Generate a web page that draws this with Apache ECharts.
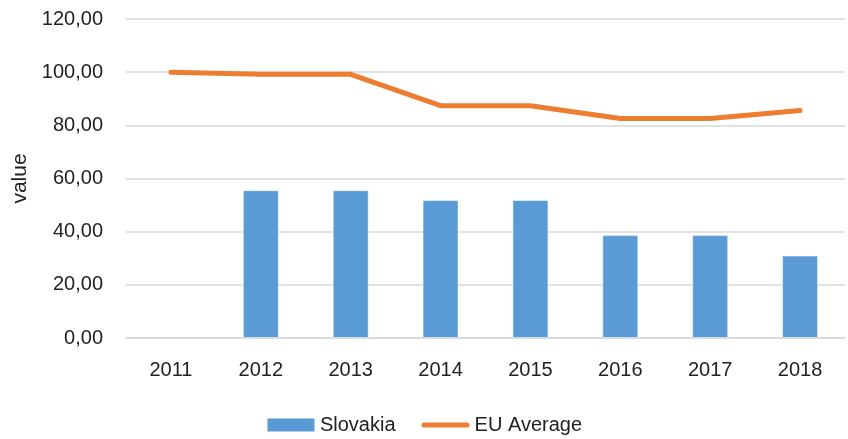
<!DOCTYPE html>
<html>
<head>
<meta charset="utf-8">
<script src="https://cdn.jsdelivr.net/npm/echarts@6/dist/echarts.min.js"></script>
<style>
html, body { margin: 0; padding: 0; background: #fff; }
#main { width: 848px; height: 439px; }
</style>
</head>
<body>
<div id="main"></div>
<script>
// data
var years = ['2011', '2012', '2013', '2014', '2015', '2016', '2017', '2018'];
var slovakia = [null, 55.6, 55.6, 51.9, 51.9, 38.7, 38.7, 31.0];
var euAverage = [100.0, 99.2, 99.2, 87.4, 87.4, 82.6, 82.6, 85.6];

var chart = echarts.init(document.getElementById('main'));
var font = 'Liberation Sans, Arial, sans-serif';
// thick line icon for the legend, padded to the full 48x14 box
var lineIcon = 'path://M0,0 L0.01,0 L0,0.01 Z M2.5,4.5 H45.5 A2.5,2.5 0 0 1 45.5,9.5 H2.5 A2.5,2.5 0 0 1 2.5,4.5 Z M48,14 L47.99,14 L48,13.99 Z';

chart.setOption({
    animation: false,
    textStyle: { fontFamily: font },
    grid: { left: 126, right: 3, top: 19, bottom: 101 },
    legend: {
        left: 'center',
        top: 410,
        itemWidth: 48,
        itemHeight: 14,
        itemGap: 26,
        textStyle: { fontSize: 20, color: '#222', fontFamily: font },
        data: [
            { name: 'Slovakia', icon: 'rect' },
            { name: 'EU Average', icon: lineIcon, itemStyle: { color: '#ed7d31' } }
        ]
    },
    xAxis: {
        type: 'category',
        data: years,
        axisLine: { lineStyle: { color: '#d9d9d9', width: 1.5 } },
        axisTick: { show: false },
        axisLabel: { fontSize: 20, color: '#222', margin: 22 }
    },
    yAxis: {
        type: 'value',
        min: 0,
        max: 120,
        interval: 20,
        name: 'value',
        nameLocation: 'middle',
        nameGap: 89,
        nameRotate: 90,
        nameTextStyle: { fontSize: 21, color: '#222' },
        axisLine: { show: false },
        axisTick: { show: false },
        splitLine: { lineStyle: { color: '#d9d9d9', width: 1.5 } },
        axisLabel: {
            fontSize: 20,
            color: '#222',
            margin: 23,
            formatter: function (v) { return v.toFixed(2).replace('.', ','); }
        }
    },
    series: [
        {
            name: 'Slovakia',
            type: 'bar',
            barWidth: 36,
            data: slovakia,
            itemStyle: { color: '#5b9bd5', borderColor: 'rgba(255,255,255,0.5)', borderWidth: 1 }
        },
        {
            name: 'EU Average',
            type: 'line',
            symbol: 'none',
            data: euAverage,
            lineStyle: { color: '#ed7d31', width: 5, cap: 'round', join: 'round' },
            itemStyle: { color: '#ed7d31' }
        }
    ]
});
</script>
</body>
</html>
